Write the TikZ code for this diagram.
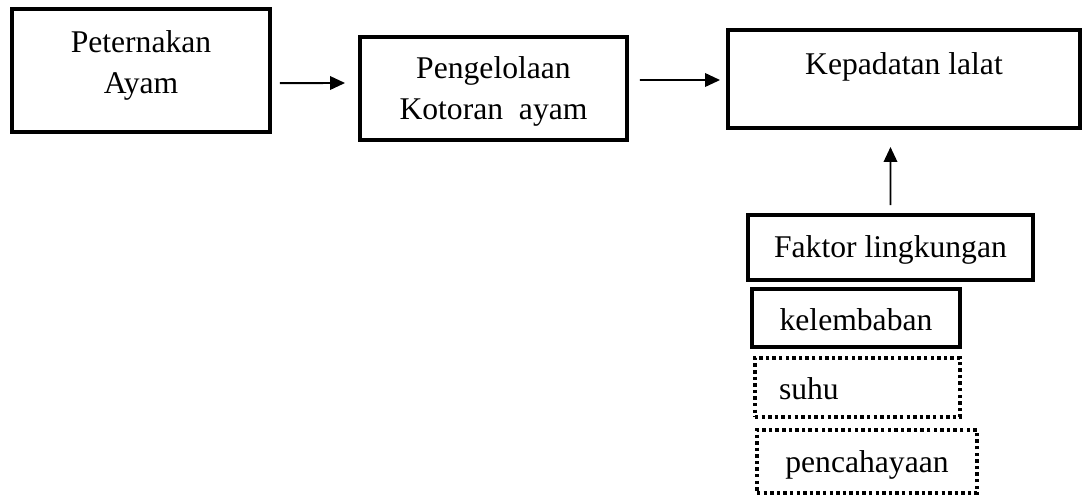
\documentclass[tikz,border=0pt]{standalone}
\usepackage{fontspec}
\setmainfont{Liberation Serif}
\usetikzlibrary{calc,arrows.meta}

\begin{document}
\begin{tikzpicture}[x=0.01333cm, y=-0.01333cm,
    every node/.style={font=\fontsize{12}{15.9}\selectfont},
    kotak/.style={draw, line width=1.5pt, inner ysep=0pt, align=center, anchor=base},
    titik/.style={draw, line width=1.5pt, dash pattern=on 1.3pt off 1.2pt, inner ysep=0pt, anchor=base},
    >={Triangle[length=0.2cm, width=0.18cm]},
    panah/.style={->, line width=0.75pt}]
    \useasboundingbox (0,0) rectangle (1089,495);

    % alur utama
    \node[kotak, minimum width=3.44cm, text height=1.133cm, text depth=0.507cm] (ternak) at (141,94) {Peternakan\\Ayam};
    \node[kotak, minimum width=3.56cm, text height=1.107cm, text depth=0.267cm] (kotoran) at (493.5,120) {Pengelolaan\\Kotoran~ ayam};
    \node[kotak, minimum width=4.693cm, text height=0.6cm, text depth=0.707cm] (kepadatan) at (904,75) {Kepadatan lalat};

    % faktor lingkungan
    \node[kotak, minimum width=3.8cm, text height=0.573cm, text depth=0.293cm] (faktor) at (890.5,258) {Faktor lingkungan};
    \node[kotak, minimum width=2.773cm, text height=0.56cm, text depth=0.213cm] (lembab) at (856,331) {kelembaban};
    \node[titik, inner xsep=0.32cm, text width=2.093cm, align=left, text height=0.56cm, text depth=0.227cm] (suhu) at (857.5,400) {suhu};
    \node[titik, minimum width=2.933cm, text height=0.573cm, text depth=0.267cm] (cahaya) at (867,473) {pencahayaan};

    \draw[panah] ($(ternak.east)+(8,12.5)$) -- ($(kotoran.west)+(-13,-5.5)$);
    \draw[panah] ($(kotoran.east)+(11,-8.5)$) -- ($(kepadatan.west)+(-6,1)$);
    \draw[panah] ($(faktor.north)+(0,-8)$) -- ($(kepadatan.south)+(-13.5,17)$);
\end{tikzpicture}
\end{document}
